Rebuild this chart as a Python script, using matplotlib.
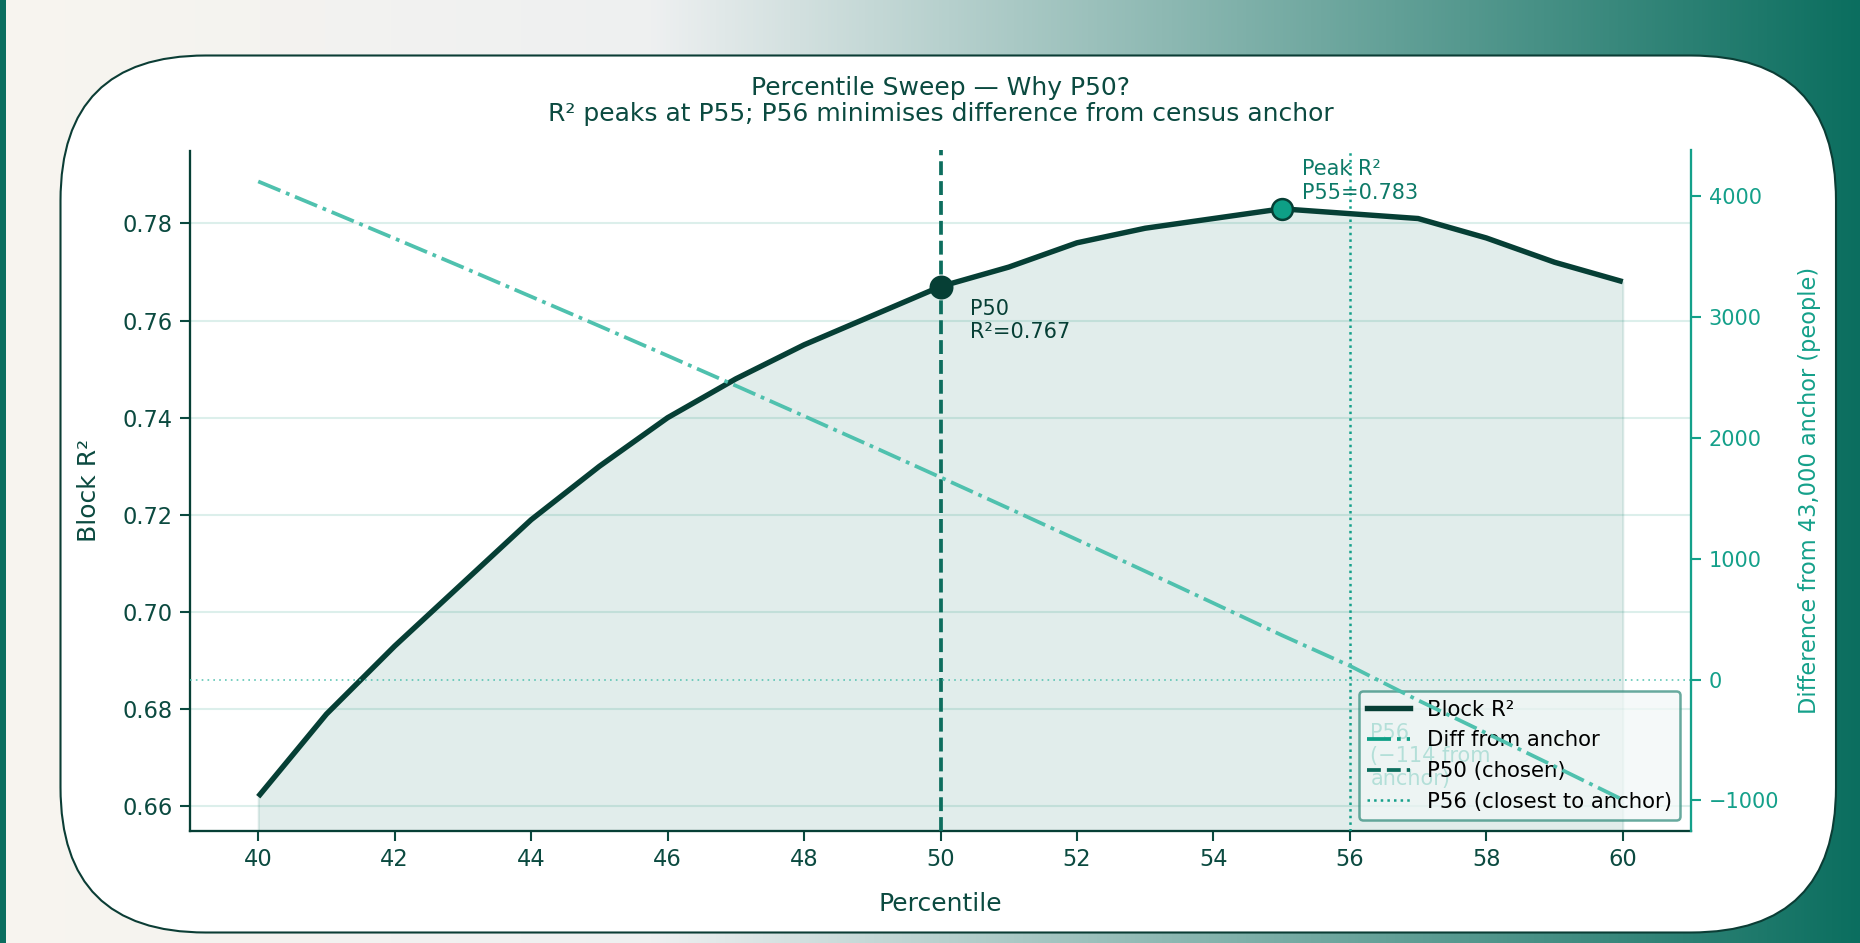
import numpy as np
import matplotlib
matplotlib.use("Agg")
import matplotlib.pyplot as plt
from matplotlib.patches import FancyBboxPatch, Rectangle
from matplotlib.lines import Line2D

# ---------------- data ----------------
percentiles = [40, 41, 42, 43, 44, 45, 46, 47, 48, 49, 50,
               51, 52, 53, 54, 55, 56, 57, 58, 59, 60]
block_r2 = [0.662, 0.679, 0.693, 0.706, 0.719, 0.730, 0.740, 0.748, 0.755, 0.761, 0.767,
            0.771, 0.776, 0.779, 0.781, 0.783, 0.782, 0.781, 0.777, 0.772, 0.768]
diff_from_anchor = [4122, 3887, 3650, 3411, 3169, 2926, 2680, 2432, 2181, 1929, 1674,
                    1417, 1158, 897, 633, 368, 114, -171, -443, -717, -994]
x_ticks = [40, 42, 44, 46, 48, 50, 52, 54, 56, 58, 60]
r2_ticks = [0.66, 0.68, 0.70, 0.72, 0.74, 0.76, 0.78]
diff_ticks = [-1000, 0, 1000, 2000, 3000, 4000]
chosen_p = 50
chosen_r2 = 0.767
peak_p = 55
peak_r2 = 0.783
closest_p = 56

title_text = "Percentile Sweep \u2014 Why P50?\nR\u00b2 peaks at P55; P56 minimises difference from census anchor"

# ---------------- colours ----------------
DARK = "#063f35"
TXT = "#0b4a40"
TEAL = "#14a08a"
LTEAL = "#4fc1ae"
MID = "#0d6e5e"

W, H, DPI = 1860, 943, 150
fig = plt.figure(figsize=(W / DPI, H / DPI), dpi=DPI)

# ---------------- background ----------------
bg = fig.add_axes([0, 0, 1, 1], zorder=-10)
bg.set_xlim(0, W)
bg.set_ylim(0, H)
bg.axis("off")
stops_pos = [0.0, 0.35, 1.0]
stops_col = np.array([[248, 245, 239], [238, 240, 241], [11, 110, 95]]) / 255.0
t = np.linspace(0, 1, 600)
grad = np.stack([np.interp(t, stops_pos, stops_col[:, i]) for i in range(3)], axis=-1)
bg.imshow(grad[np.newaxis, :, :], extent=[0, W, 0, H], aspect="auto", zorder=0)
bg.add_patch(Rectangle((0, 0), 6, H, facecolor="#0b6e5f", edgecolor="none", zorder=1))
box = FancyBboxPatch((60.5, H - 932.5), 1836 - 60.5, 932.5 - 55.5,
                     boxstyle="round,pad=0,rounding_size=145",
                     facecolor="white", edgecolor="#0b3d35", linewidth=1.0, zorder=2)
bg.add_patch(box)

# ---------------- main axes ----------------
ax = fig.add_axes([190 / W, 1 - 830.7 / H, (1691 - 190) / W, (830.7 - 150.5) / H])
ax.set_facecolor("none")
ax.set_xlim(39, 61)
ax.set_ylim(0.655, 0.795)

ax.fill_between(percentiles, block_r2, 0.655, color="#0b6e5f", alpha=0.12, linewidth=1, zorder=1)
ax.plot(percentiles, block_r2, color=DARK, lw=2.6, zorder=4, solid_capstyle="butt")
ax.axvline(chosen_p, color=MID, lw=1.8, ls="--", zorder=3)
ax.axvline(closest_p, color=TEAL, lw=1.2, ls=":", zorder=3)
ax.plot([chosen_p], [chosen_r2], "o", color=DARK, ms=10.5, zorder=6)
ax.plot([peak_p], [peak_r2], "o", color="#0e9f86", mec=DARK, mew=1.2, ms=10, zorder=6)

ax.annotate("P50\nR\u00b2=0.767", xy=(chosen_p, chosen_r2), xytext=(14, -6),
            textcoords="offset points", ha="left", va="top", fontsize=10, color=DARK,
            zorder=7)
ax.annotate("Peak R\u00b2\nP55=0.783", xy=(peak_p, peak_r2), xytext=(10, 3),
            textcoords="offset points", ha="left", va="bottom", fontsize=10, color="#0d7a68",
            zorder=7)
ax.text(56.3, 0.6772, "P56\n(\u2212114 from\nanchor)", ha="left", va="top", fontsize=10,
        color=TEAL, zorder=2)

ax.set_xticks(x_ticks)
ax.set_yticks(r2_ticks)
ax.set_yticklabels([f"{v:.2f}" for v in r2_ticks])
ax.grid(axis="y", color="#d4ebe6", lw=1.0, alpha=0.8)
ax.grid(axis="x", visible=False)
ax.set_axisbelow(True)
ax.tick_params(axis="both", colors=TXT, labelsize=10.8, length=5, width=1)
for s in ["top", "right"]:
    ax.spines[s].set_visible(False)
for s in ["left", "bottom"]:
    ax.spines[s].set_color(DARK)
    ax.spines[s].set_linewidth(1.1)
ax.set_xlabel("Percentile", fontsize=12, color=TXT, labelpad=10)
ax.set_ylabel("Block R\u00b2", fontsize=12, color=TXT, labelpad=10)
ax.set_title(title_text, fontsize=12, color=TXT, pad=14, linespacing=1.1)

# ---------------- twin axis ----------------
ax2 = ax.twinx()
ax2.set_ylim(-1250, 4378)
ax2.plot(percentiles, diff_from_anchor, color=LTEAL, lw=1.8, ls="-.", zorder=4)
ax2.axhline(0, color=LTEAL, lw=0.8, ls=(0, (1, 2.5)), alpha=0.9, zorder=2)
ax2.set_yticks(diff_ticks)
ax2.set_yticklabels([f"{v:d}".replace("-", "\u2212") for v in diff_ticks])
ax2.tick_params(axis="y", colors=TEAL, labelsize=10, length=5, width=1)
for s in ["top", "left", "bottom"]:
    ax2.spines[s].set_visible(False)
ax2.spines["right"].set_color(TEAL)
ax2.spines["right"].set_linewidth(1.1)
ax2.set_ylabel("Difference from 43,000 anchor (people)", fontsize=10.8, color=TEAL, labelpad=9)

# ---------------- legend ----------------
handles = [
    Line2D([0], [0], color=DARK, lw=2.6),
    Line2D([0], [0], color="#0e9f86", lw=1.8, ls="-."),
    Line2D([0], [0], color=MID, lw=1.8, ls="--"),
    Line2D([0], [0], color=TEAL, lw=1.2, ls=":"),
]
labels = ["Block R\u00b2", "Diff from anchor", "P50 (chosen)", "P56 (closest to anchor)"]
leg = ax.legend(handles, labels, loc="lower right", fontsize=10.2, frameon=True,
                facecolor="#f2f8f7", edgecolor="#2f8a7a", framealpha=0.72)
leg.get_frame().set_linewidth(1.2)
leg.set_zorder(5)

fig.savefig("out.png", dpi=DPI)
